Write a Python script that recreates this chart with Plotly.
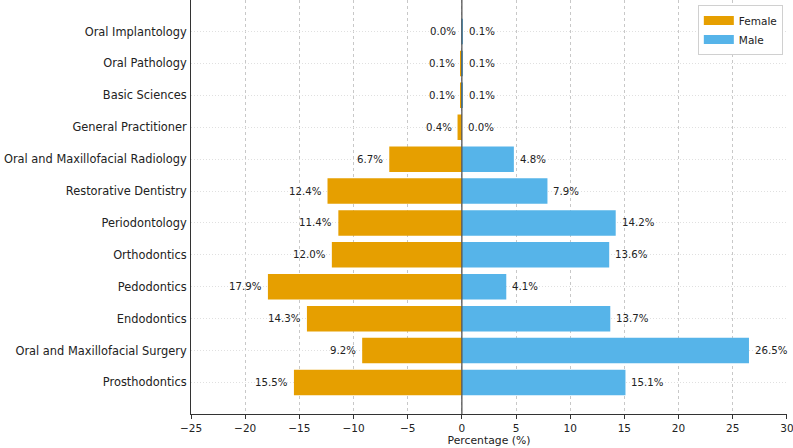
import plotly.graph_objects as go

categories = ["Prosthodontics", "Oral and Maxillofacial Surgery", "Endodontics", "Pedodontics",
              "Orthodontics", "Periodontology", "Restorative Dentistry", "Oral and Maxillofacial Radiology",
              "General Practitioner", "Basic Sciences", "Oral Pathology", "Oral Implantology"]
female = [15.5, 9.2, 14.3, 17.9, 12.0, 11.4, 12.4, 6.7, 0.4, 0.1, 0.1, 0.0]
male = [15.1, 26.5, 13.7, 4.1, 13.6, 14.2, 7.9, 4.8, 0.0, 0.1, 0.1, 0.1]
x_ticks = [-25, -20, -15, -10, -5, 0, 5, 10, 15, 20, 25, 30]
x_tick_labels = ["\u221225", "\u221220", "\u221215", "\u221210", "\u22125", "0", "5", "10", "15", "20", "25", "30"]

FEMALE_C = "#E69F00"
MALE_C = "#56B4E9"
FONT = "DejaVu Sans"

fig = go.Figure()
fig.add_trace(go.Bar(y=categories, x=[-v for v in female], orientation="h", name="Female",
                     marker=dict(color=FEMALE_C, line=dict(width=0)), showlegend=False))
fig.add_trace(go.Bar(y=categories, x=male, orientation="h", name="Male",
                     marker=dict(color=MALE_C, line=dict(width=0)), showlegend=False))
# legend swatches (wide rectangles)
fig.add_trace(go.Scatter(x=[None], y=[None], mode="lines", name="Female",
                         line=dict(color=FEMALE_C, width=9)))
fig.add_trace(go.Scatter(x=[None], y=[None], mode="lines", name="Male",
                         line=dict(color=MALE_C, width=9)))

annotations = []
for c, f, m in zip(categories, female, male):
    annotations.append(dict(x=-f, y=c, text=f"{f:.1f}%", showarrow=False, xanchor="right",
                            xshift=-4, font=dict(family=FONT, size=10.2, color="#222")))
    annotations.append(dict(x=m, y=c, text=f"{m:.1f}%", showarrow=False, xanchor="left",
                            xshift=4, font=dict(family=FONT, size=10.2, color="#222")))

fig.add_shape(type="line", x0=0, x1=0, y0=0, y1=1, yref="paper", xref="x",
              line=dict(color="#555555", width=1.3), layer="above")

fig.update_layout(
    width=793, height=448,
    margin=dict(l=191, r=6, t=0, b=34, autoexpand=False),
    barmode="relative", bargap=0.2,
    plot_bgcolor="white", paper_bgcolor="white",
    font=dict(family=FONT, color="#222"),
    annotations=annotations,
    legend=dict(x=0.993, y=0.988, xanchor="right", yanchor="top", bgcolor="white",
                bordercolor="#d0d0d0", borderwidth=1, font=dict(size=10.5, family=FONT),
                traceorder="normal", itemwidth=30, tracegroupgap=0),
    showlegend=True,
)
fig.update_xaxes(range=[-25, 30.01], tickvals=x_ticks, ticktext=x_tick_labels,
                 showgrid=True, gridcolor="#c8c8c8", griddash="3px,3px", gridwidth=0.8,
                 zeroline=False, showline=True, linecolor="#333", linewidth=1,
                 ticks="outside", ticklen=4, tickcolor="#333", automargin=False,
                 ticklabeloverflow="allow",
                 tickfont=dict(size=10.5, family=FONT),
                 title=dict(text="Percentage (%)", font=dict(size=10.8, family=FONT), standoff=3))
fig.update_yaxes(range=[-0.99, 11.99], showgrid=True, gridcolor="#e0e0e0", griddash="1px,2px",
                 gridwidth=0.8, showline=True, linecolor="#333", linewidth=1,
                 ticks="", ticklabelstandoff=1, automargin=False,
                 tickfont=dict(size=11.4, family=FONT))

fig.write_html("out.html")
